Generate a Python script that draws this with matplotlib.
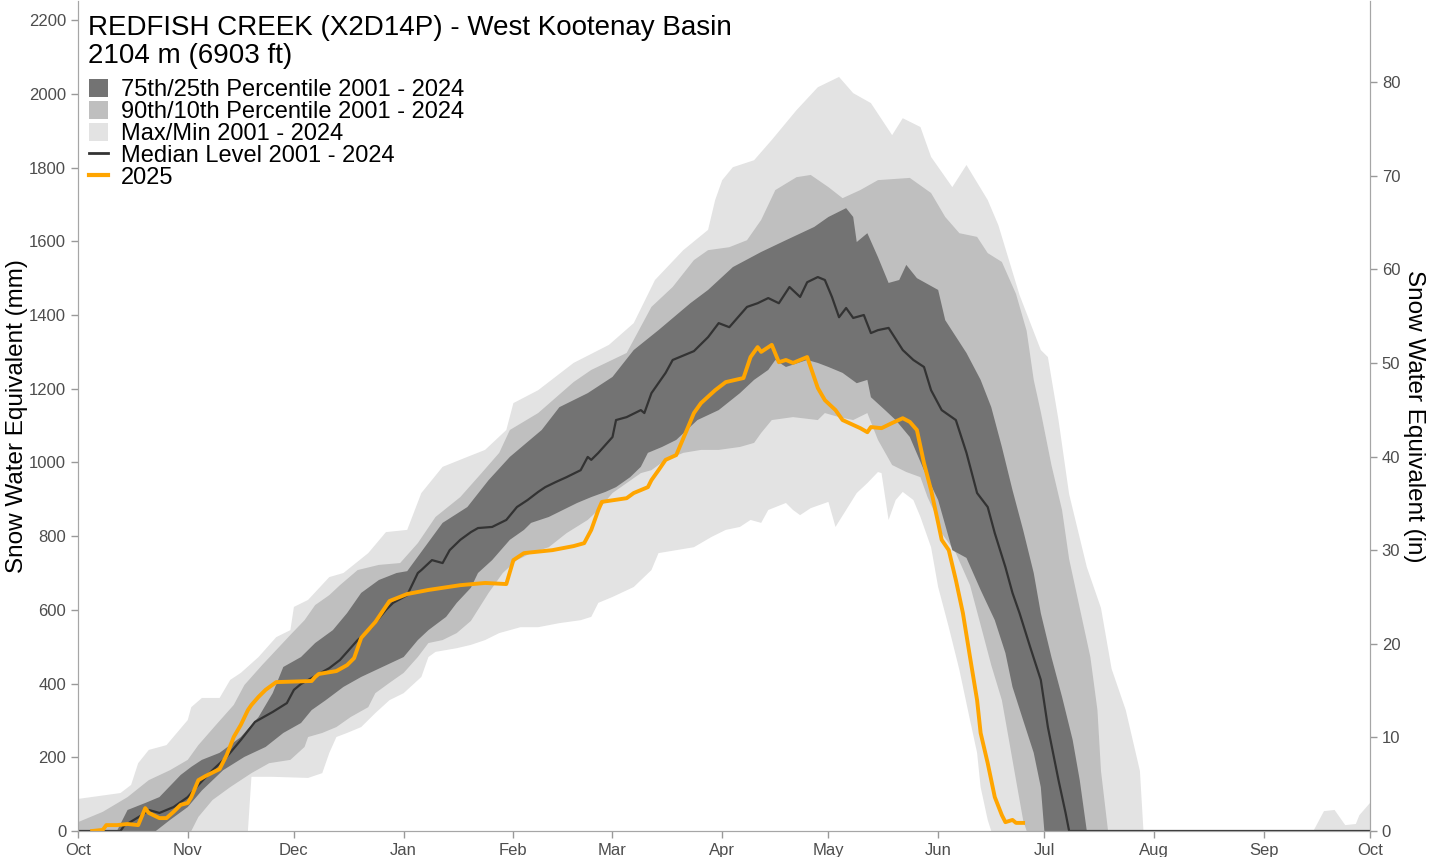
import numpy as np
import matplotlib
matplotlib.use('Agg')
import matplotlib.pyplot as plt
from matplotlib.patches import Patch
from matplotlib.lines import Line2D

plt.rcParams['font.family'] = ['Liberation Sans', 'DejaVu Sans']

# days since Oct 1 (water year) and snow water equivalent in mm
max_day = [0, 12, 15, 17, 20, 25, 31, 32, 35, 40, 43, 46, 51, 56, 60, 61, 65, 71, 75, 82, 87, 93, 97, 103, 110, 115, 121, 123, 130, 140,
           150, 157, 163, 171, 178, 180, 182, 185, 191, 196, 203, 209, 215, 219, 224, 230, 233, 238, 241, 247, 251, 257, 260, 266, 272, 274,
           277, 280, 285, 289, 292, 296, 300, 301, 349, 352, 355, 358, 361, 362, 365]
max_mm = [87, 103, 125, 184, 220, 233, 301, 336, 361, 361, 410, 429, 472, 526, 545, 608, 627, 689, 700, 754, 811, 817, 917, 988, 1015, 1034,
          1088, 1161, 1196, 1270, 1319, 1378, 1495, 1576, 1631, 1712, 1766, 1801, 1820, 1875, 1956, 2018, 2046, 2002, 1975, 1888, 1934, 1910,
          1829, 1747, 1807, 1712, 1644, 1454, 1305, 1286, 1115, 914, 716, 605, 440, 328, 163, 0, 0, 54, 57, 16, 19, 43, 76]

p90_day = [0, 7, 14, 20, 26, 31, 34, 39, 44, 47, 52, 56, 60, 64, 67, 71, 74, 79, 85, 91, 96, 101, 108, 114, 119, 122, 130, 140, 145, 155,
           162, 168, 174, 178, 184, 189, 193, 197, 203, 207, 212, 216, 221, 226, 235, 241, 245, 249, 254, 257, 261, 265, 268, 270, 272, 275,
           278, 280, 283, 286, 288, 289, 291, 365]
p90_mm = [24, 52, 92, 138, 165, 193, 233, 288, 342, 396, 450, 491, 532, 572, 613, 640, 667, 708, 722, 727, 781, 852, 906, 971, 1026, 1088,
          1134, 1218, 1251, 1297, 1422, 1476, 1549, 1576, 1584, 1603, 1658, 1739, 1774, 1780, 1747, 1717, 1739, 1766, 1772, 1731, 1666, 1622,
          1612, 1568, 1544, 1457, 1357, 1224, 1137, 993, 871, 738, 605, 472, 328, 163, 0, 0]

p75_day = [0, 11, 14, 19, 23, 29, 32, 35, 40, 46, 51, 55, 58, 63, 67, 72, 76, 80, 85, 90, 93, 103, 110, 116, 122, 131, 136, 144, 151, 157,
           164, 173, 178, 185, 193, 200, 208, 212, 217, 219, 220, 223, 226, 229, 232, 234, 237, 243, 245, 251, 255, 258, 261, 264, 267, 270,
           272, 275, 278, 281, 283, 285, 365]
p75_mm = [0, 0, 57, 76, 92, 152, 174, 193, 212, 255, 309, 374, 445, 472, 510, 545, 591, 646, 681, 700, 705, 836, 879, 952, 1015, 1088, 1150,
          1188, 1232, 1305, 1359, 1432, 1468, 1530, 1571, 1603, 1639, 1666, 1690, 1666, 1598, 1622, 1557, 1487, 1495, 1536, 1500, 1468, 1386,
          1297, 1224, 1150, 1042, 925, 817, 700, 591, 472, 364, 247, 138, 0, 0]

med_day = [0, 12, 13, 18, 20, 23, 27, 31, 34, 38, 42, 46, 50, 55, 59, 61, 63, 66, 71, 74, 79, 83, 87, 89, 93, 96, 97, 100, 103, 105, 108,
           111, 113, 117, 121, 124, 127, 130, 132, 135, 138, 142, 144, 145, 147, 151, 152, 155, 159, 160, 162, 166, 168, 170, 174, 178, 181,
           184, 189, 192, 195, 198, 201, 204, 206, 209, 211, 213, 215, 217, 219, 222, 224, 226, 229, 233, 236, 239, 241, 244, 248, 251, 254,
           257, 259, 262, 264, 266, 269, 272, 274, 277, 279, 280, 365]
med_mm = [0, 0, 14, 43, 57, 49, 65, 92, 125, 165, 201, 247, 296, 323, 347, 383, 399, 415, 442, 464, 518, 553, 600, 619, 640, 700, 708, 735,
          727, 762, 790, 811, 822, 825, 844, 879, 898, 920, 933, 947, 960, 979, 1015, 1007, 1026, 1069, 1115, 1123, 1142, 1134, 1188, 1243,
          1278, 1286, 1302, 1340, 1378, 1367, 1422, 1432, 1446, 1432, 1476, 1449, 1489, 1503, 1495, 1449, 1394, 1419, 1392, 1400, 1351, 1359,
          1365, 1305, 1278, 1259, 1196, 1142, 1115, 1026, 917, 879, 808, 716, 646, 591, 499, 410, 282, 138, 49, 0, 0]

p25_day = [0, 22, 26, 31, 35, 41, 47, 53, 58, 63, 66, 70, 75, 80, 86, 92, 96, 99, 104, 107, 111, 113, 117, 122, 126, 128, 133, 137, 141,
           145, 149, 152, 156, 159, 161, 165, 169, 172, 175, 181, 187, 191, 195, 197, 200, 206, 209, 212, 216, 220, 223, 224, 228, 231, 235,
           239, 243, 247, 251, 255, 259, 262, 264, 267, 270, 272, 273, 365]
p25_mm = [0, 0, 30, 65, 110, 165, 201, 228, 266, 293, 328, 355, 391, 418, 445, 472, 518, 545, 581, 619, 660, 700, 735, 790, 817, 836, 852,
          871, 890, 906, 920, 933, 960, 988, 1026, 1042, 1061, 1088, 1115, 1142, 1188, 1224, 1251, 1278, 1259, 1278, 1270, 1259, 1243, 1215,
          1224, 1177, 1142, 1115, 1069, 979, 898, 762, 741, 654, 572, 483, 391, 301, 212, 119, 0, 0]

p10_day = [0, 32, 34, 38, 43, 49, 54, 60, 64, 65, 69, 73, 77, 82, 84, 88, 92, 96, 99, 103, 107, 111, 116, 120, 124, 128, 133, 138, 144,
           147, 151, 155, 159, 162, 166, 171, 176, 181, 187, 191, 193, 196, 202, 209, 211, 215, 219, 223, 226, 230, 234, 238, 240, 243, 244,
           248, 252, 255, 258, 261, 263, 265, 267, 268, 365]
p10_mm = [0, 0, 38, 84, 119, 157, 184, 193, 228, 255, 266, 282, 309, 336, 374, 402, 429, 472, 510, 518, 537, 570, 646, 700, 735, 754, 770,
          808, 844, 871, 917, 944, 971, 979, 1007, 1026, 1034, 1034, 1042, 1053, 1080, 1115, 1123, 1115, 1134, 1123, 1115, 1134, 1061, 993,
          974, 960, 906, 844, 808, 754, 667, 559, 450, 355, 247, 138, 30, 0, 0]

min_day = [0, 48, 49, 55, 65, 69, 71, 73, 76, 80, 84, 88, 92, 97, 99, 101, 107, 111, 115, 119, 125, 130, 136, 142, 145, 147, 151, 157, 162,
           164, 169, 174, 179, 183, 187, 190, 193, 195, 200, 202, 204, 207, 212, 214, 217, 220, 223, 226, 227, 229, 231, 233, 236, 238, 241,
           243, 246, 249, 252, 254, 255, 257, 258, 365]
min_mm = [0, 0, 147, 147, 144, 157, 212, 255, 266, 282, 320, 355, 374, 418, 472, 486, 496, 505, 518, 537, 553, 553, 564, 572, 581, 619, 635,
          662, 708, 754, 762, 770, 798, 817, 825, 844, 836, 871, 890, 871, 857, 876, 893, 825, 871, 917, 944, 974, 971, 844, 898, 920, 898,
          852, 770, 662, 553, 437, 301, 212, 119, 30, 0, 0]

wy2025_day = [4, 7, 8, 11, 14, 17, 19, 20, 23, 25, 27, 29, 31, 32, 34, 36, 40, 42, 44, 46, 48, 49, 51, 53, 56, 66, 67, 68, 73, 76, 78, 80,
              84, 88, 93, 99, 108, 115, 121, 123, 126, 134, 140, 143, 145, 147, 148, 155, 157, 161, 162, 164, 166, 169, 172, 174, 176, 180,
              183, 188, 190, 192, 193, 196, 198, 200, 202, 206, 209, 211, 214, 216, 221, 223, 224, 227, 230, 233, 235, 237, 239, 241, 243,
              244, 246, 248, 250, 252, 254, 255, 257, 259, 261, 262, 264, 265, 267]
wy2025_mm = [0, 3, 16, 16, 19, 16, 62, 49, 35, 35, 52, 71, 76, 92, 138, 149, 168, 206, 255, 288, 328, 342, 364, 383, 404, 407, 418, 426,
             434, 450, 469, 524, 567, 624, 643, 654, 667, 673, 670, 735, 754, 762, 773, 781, 817, 871, 893, 903, 917, 933, 952, 979, 1007,
             1020, 1088, 1134, 1161, 1196, 1218, 1229, 1286, 1313, 1300, 1319, 1272, 1278, 1270, 1286, 1202, 1169, 1142, 1115, 1093, 1082,
             1096, 1093, 1107, 1120, 1110, 1088, 998, 925, 836, 790, 762, 681, 591, 472, 355, 266, 184, 92, 43, 24, 30, 22, 22]

month_days = [0, 31, 61, 92, 123, 151, 182, 212, 243, 273, 304, 335, 365]
month_labels = ['Oct', 'Nov', 'Dec', 'Jan', 'Feb', 'Mar', 'Apr', 'May', 'Jun', 'Jul', 'Aug', 'Sep', 'Oct']

c_light = '#e3e3e3'
c_mid = '#bfbfbf'
c_dark = '#737373'
c_med = '#333333'
c_now = '#ffa500'


def band(ax, up_d, up_v, lo_d, lo_v, color):
    xs = list(up_d) + list(lo_d)[::-1]
    ys = list(up_v) + list(lo_v)[::-1]
    ax.fill(xs, ys, color=color, linewidth=0)


fig = plt.figure(figsize=(14.3, 8.57), dpi=100)
ax = fig.add_axes([78 / 1430, 26 / 857, 1292 / 1430, 830 / 857])

band(ax, max_day, max_mm, min_day, min_mm, c_light)
band(ax, p90_day, p90_mm, p10_day, p10_mm, c_mid)
band(ax, p75_day, p75_mm, p25_day, p25_mm, c_dark)
ax.plot(med_day, med_mm, color=c_med, lw=1.6)
ax.plot(wy2025_day, wy2025_mm, color=c_now, lw=2.8)

ymax = 2252
ax.set_xlim(0, 365)
ax.set_ylim(0, ymax)
ax.set_xticks(month_days)
ax.set_xticklabels(month_labels)
ax.set_yticks(range(0, 2201, 200))

ax2 = ax.twinx()
ax2.set_ylim(0, ymax / 25.4)
ax2.set_yticks(range(0, 81, 10))

for a in (ax, ax2):
    a.tick_params(colors='#999999', labelcolor='#4d4d4d', labelsize=12, length=5, width=1)
    for s in a.spines.values():
        s.set_color('#a6a6a6')
    a.spines['top'].set_visible(False)

ax.set_ylabel('Snow Water Equivalent (mm)', fontsize=17.5, labelpad=1)
ax2.set_ylabel('Snow Water Equivalent (in)', fontsize=17.5, rotation=270, va='bottom', labelpad=2)

ax.text(0.0077, 0.959, 'REDFISH CREEK (X2D14P) - West Kootenay Basin', transform=ax.transAxes,
        fontsize=20, va='baseline', ha='left')
ax.text(0.0077, 0.925, '2104 m (6903 ft)', transform=ax.transAxes,
        fontsize=20, va='baseline', ha='left')

handles = [Patch(facecolor=c_dark, edgecolor='none'),
           Patch(facecolor=c_mid, edgecolor='none'),
           Patch(facecolor=c_light, edgecolor='none'),
           Line2D([], [], color=c_med, lw=2),
           Line2D([], [], color=c_now, lw=3)]
labels = ['75th/25th Percentile 2001 - 2024', '90th/10th Percentile 2001 - 2024',
          'Max/Min 2001 - 2024', 'Median Level 2001 - 2024', '2025']
ax.legend(handles, labels, loc='upper left', bbox_to_anchor=(0.0085, 0.906), frameon=False,
          fontsize=17, borderpad=0, borderaxespad=0, labelspacing=-0.012,
          handlelength=0.8, handleheight=0.8, handletextpad=0.55)

fig.savefig('out.png', dpi=100)
